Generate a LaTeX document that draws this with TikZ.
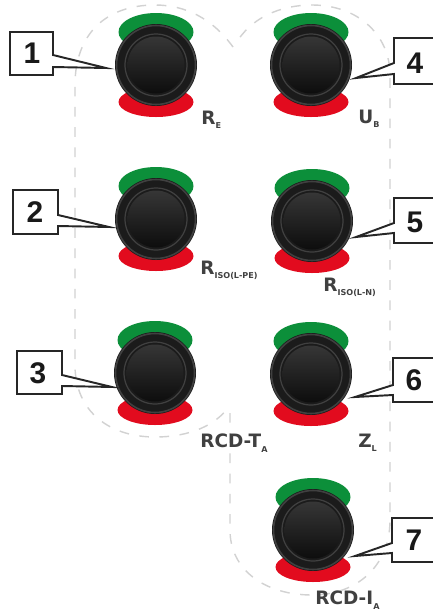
\documentclass[tikz,border=0pt]{standalone}
\usepackage{fontspec}
\setmainfont{DejaVu Sans}
\newfontfamily\digitfont{Liberation Sans}
\definecolor{btngreen}{HTML}{0C8F3A}
\definecolor{btnred}{HTML}{E20B1E}
\definecolor{dashgrey}{HTML}{D2D2D2}
\definecolor{ringdark}{HTML}{1B1B1B}
\definecolor{ringlight}{HTML}{404040}
\definecolor{balltop}{HTML}{363636}
\definecolor{ballbot}{HTML}{0D0D0D}
\tikzset{
  x=0.02cm,y=-0.02cm,
  groupline/.style={draw=dashgrey,line width=0.8pt,dash pattern=on 5.5pt off 6pt},
  callout/.style={draw=black!85,fill=white,line width=1.1pt,line join=miter},
  calltext/.style={font=\digitfont\bfseries\fontsize{17}{17}\selectfont,inner sep=0pt,text=black!90},
  caption/.style={font=\bfseries\fontsize{10.5}{11}\selectfont,inner sep=0pt,text=black!75,anchor=west},
}
\newcommand{\btn}[2]{
  \fill[btngreen] (#1,#2-33) ellipse [x radius=37.5,y radius=19];
  \fill[btnred] (#1,#2+37) ellipse [x radius=37.5,y radius=15];
  \fill[ringdark] (#1,#2) circle [radius=41];
  \draw[ringlight,line width=0.9pt] (#1,#2) circle [radius=39.5];
  \draw[ringlight,line width=0.7pt] (#1,#2) circle [radius=31];
  \shade[top color=balltop,bottom color=ballbot] (#1,#2) circle [radius=28.5];
}
\newcommand{\subs}[1]{\raisebox{-2.5pt}{\fontsize{4.6}{5}\selectfont #1}}
\begin{document}
\begin{tikzpicture}
\useasboundingbox (0,0) rectangle (433,613);
\fill[white] (0,0) rectangle (433,613);
% dashed group outlines
\draw[groupline] (233,47) .. controls (212,18) and (185,5) .. (155,5) .. controls (105,5) and (75,35) .. (75,85) -- (75,365) .. controls (75,412) and (110,437) .. (155,437) .. controls (190,437) and (217,425) .. (230,405);
\draw[groupline] (230,413) -- (230,530) .. controls (230,570) and (265,595) .. (312,595) .. controls (358,595) and (390,565) .. (390,520) -- (390,75) .. controls (390,35) and (358,5) .. (312,5) .. controls (280,5) and (250,18) .. (235,45);
% buttons
\btn{156}{65}\btn{311}{65}
\btn{156}{219}\btn{312}{221}
\btn{155}{373}\btn{311}{374}
\btn{313}{530}
% callouts
\coordinate (tipa) at (106,68);
\coordinate (tipb) at (109,227);
\coordinate (tipc) at (112,387);
\coordinate (tipd) at (356,78);
\coordinate (tipe) at (356,237);
\coordinate (tipf) at (355,397);
\coordinate (tipg) at (355,556);
\draw[callout] (10,32) -- (53,32) -- (53,55) -- (tipa) -- (53,67) -- (53,75) -- (10,75) -- cycle;
\draw[callout] (13,190) -- (58,190) -- (58,215) -- (tipb) -- (58,226) -- (58,234) -- (13,234) -- cycle;
\draw[callout] (17,351) -- (62,351) -- (62,375) -- (tipc) -- (62,386) -- (62,394) -- (17,394) -- cycle;
\draw[callout] (440,38) -- (394,38) -- (394,63) -- (tipd) -- (394,74) -- (394,84) -- (440,84);
\draw[callout] (440,198) -- (394,198) -- (394,223) -- (tipe) -- (394,233) -- (394,243) -- (440,243);
\draw[callout] (440,358) -- (393,358) -- (393,385) -- (tipf) -- (393,395) -- (393,402) -- (440,402);
\draw[callout] (440,518) -- (392,518) -- (392,543) -- (tipg) -- (392,553) -- (392,562) -- (440,562);
\node[calltext] (n1) at (32,53) {1};
\node[calltext] (n2) at (35,212) {2};
\node[calltext] (n3) at (38,373) {3};
\node[calltext] (n4) at (415,63) {4};
\node[calltext] (n5) at (415,222) {5};
\node[calltext] (n6) at (414,380) {6};
\node[calltext] (n7) at (414,540) {7};
% captions
\node[caption] (re) at (201,120) {R\subs{E}};
\node[caption] (ub) at (358,119) {U\subs{B}};
\node[caption] (riso1) at (200,270) {R\subs{ISO(L-PE)}};
\node[caption] (riso2) at (323,287) {R\subs{ISO(L-N)}};
\node[caption] (rcdt) at (200,443) {RCD-T\subs{A}};
\node[caption] (zl) at (358,443) {Z\subs{L}};
\node[caption] (rcdi) at (315,600) {RCD-I\subs{A}};
\end{tikzpicture}
\end{document}
